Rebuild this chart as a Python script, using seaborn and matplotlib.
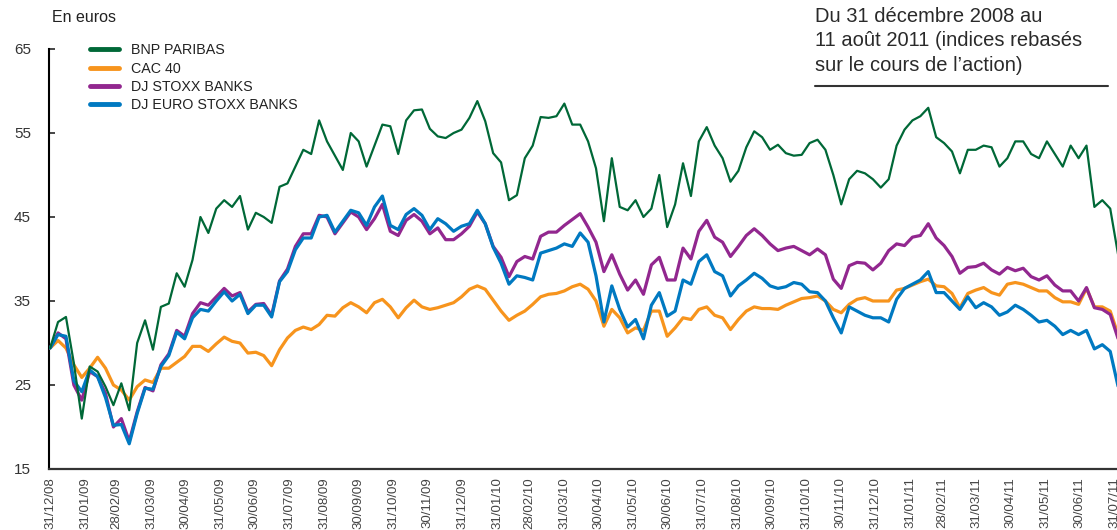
import pandas as pd
import matplotlib
matplotlib.use('Agg')
import matplotlib.pyplot as plt
import seaborn as sns

# Valeurs hebdomadaires (base = cours BNP au 31/12/2008)
start_date = '2008-12-31'

bnp = [29.4, 32.5, 33.1, 27.6, 21.0, 27.2, 26.6, 24.8, 22.6, 25.2,
       22.0, 30.0, 32.7, 29.2, 34.3, 34.7, 38.3, 36.7, 39.9, 45.0,
       43.1, 46.0, 47.0, 46.2, 47.5, 43.5, 45.5, 45.0, 44.3, 48.6,
       49.0, 51.0, 53.0, 52.5, 56.5, 54.0, 52.3, 50.6, 55.0, 54.0,
       51.0, 53.5, 56.0, 55.8, 52.5, 56.5, 57.7, 57.8, 55.5, 54.6,
       54.4, 55.0, 55.4, 56.8, 58.8, 56.4, 52.6, 51.5, 47.0, 47.6,
       52.0, 53.5, 56.9, 56.8, 57.0, 58.5, 56.0, 56.0, 54.0, 50.8,
       44.5, 52.0, 46.2, 45.8, 47.0, 45.0, 46.0, 50.0, 43.8, 46.5,
       51.4, 47.5, 54.0, 55.7, 53.5, 52.0, 49.2, 50.5, 53.3, 55.2,
       54.5, 53.0, 53.6, 52.6, 52.3, 52.4, 53.8, 54.2, 53.0, 50.0,
       46.5, 49.5, 50.5, 50.2, 49.5, 48.5, 49.5, 53.5, 55.4, 56.5,
       57.0, 58.0, 54.5, 53.8, 52.8, 50.2, 53.0, 53.0, 53.5, 53.3,
       51.0, 52.0, 54.0, 54.0, 52.5, 52.0, 54.0, 52.5, 51.0, 53.5,
       52.0, 53.5, 46.2, 47.0, 46.0, 40.5, 40.0]

cac40 = [29.4, 30.3, 29.4, 27.4, 25.9, 27.0, 28.3, 27.0, 25.0, 24.4,
         23.2, 24.8, 25.6, 25.3, 27.0, 27.0, 27.7, 28.4, 29.6, 29.6,
         29.0, 29.9, 30.7, 30.2, 30.0, 28.8, 28.9, 28.5, 27.3, 29.2,
         30.6, 31.5, 31.9, 31.6, 32.2, 33.3, 33.2, 34.2, 34.8, 34.3,
         33.6, 34.8, 35.2, 34.3, 33.0, 34.2, 35.1, 34.3, 34.0, 34.2,
         34.5, 34.8, 35.5, 36.4, 36.8, 36.4, 35.1, 33.8, 32.7, 33.3,
         33.8, 34.6, 35.5, 35.8, 35.9, 36.2, 36.7, 37.0, 36.4, 35.0,
         32.0, 34.0, 33.0, 31.2, 31.8, 31.5, 33.8, 33.8, 30.8, 31.8,
         33.0, 32.8, 34.0, 34.3, 33.3, 33.0, 31.6, 32.8, 33.8, 34.3,
         34.1, 34.1, 34.0, 34.5, 34.9, 35.3, 35.4, 35.6, 35.0, 34.0,
         33.6, 34.6, 35.2, 35.4, 35.0, 35.0, 35.0, 36.3, 36.5, 36.9,
         37.3, 37.6, 36.8, 36.7, 35.9, 34.2, 35.9, 36.3, 36.6, 36.0,
         35.7, 37.0, 37.2, 37.0, 36.6, 36.2, 36.2, 35.4, 34.9, 34.9,
         34.6, 36.5, 34.3, 34.3, 33.8, 31.0, 30.5]

dj_stoxx_banks = [29.4, 31.2, 30.5, 25.0, 23.2, 26.6, 26.0, 24.0, 20.0, 21.0,
                  18.3, 21.8, 24.7, 24.3, 27.4, 28.7, 31.5, 30.8, 33.5, 34.8,
                  34.5, 35.5, 36.5, 35.6, 36.0, 33.7, 34.6, 34.7, 33.3, 37.4,
                  38.8, 41.5, 43.0, 43.0, 45.2, 45.0, 43.0, 44.3, 45.6, 45.0,
                  43.5, 44.8, 46.5, 43.3, 42.8, 44.6, 45.3, 44.5, 43.0, 43.7,
                  42.3, 42.3, 43.0, 43.9, 45.6, 44.2, 41.5, 40.2, 37.9, 39.7,
                  40.3, 40.0, 42.7, 43.2, 43.2, 44.0, 44.7, 45.4, 43.8, 42.0,
                  38.5, 40.5, 38.2, 36.3, 37.5, 35.8, 39.3, 40.2, 37.5, 37.5,
                  41.3, 40.0, 43.3, 44.6, 42.6, 42.0, 40.3, 41.5, 42.8, 43.6,
                  42.8, 41.8, 41.0, 41.3, 41.5, 41.0, 40.5, 41.2, 40.5, 37.6,
                  36.5, 39.2, 39.6, 39.5, 38.7, 39.5, 41.0, 41.8, 41.6, 42.6,
                  42.8, 44.2, 42.5, 41.6, 40.3, 38.3, 39.0, 39.1, 39.5, 38.7,
                  38.2, 39.0, 38.6, 38.9, 37.9, 37.5, 38.0, 36.9, 36.2, 36.2,
                  35.0, 36.6, 34.2, 34.0, 33.4, 30.5, 29.8]

dj_euro_stoxx_banks = [29.4, 31.0, 30.8, 25.5, 24.2, 26.8, 26.0, 23.5, 20.2, 20.3,
                       18.0, 21.6, 24.6, 24.5, 27.2, 28.5, 31.3, 30.5, 33.0, 34.0,
                       33.8, 35.0, 36.1, 35.0, 35.8, 33.5, 34.5, 34.5, 33.1, 37.3,
                       38.5, 41.1, 42.5, 42.5, 45.0, 45.2, 43.2, 44.5, 45.8, 45.5,
                       44.0, 46.2, 47.5, 44.0, 43.5, 45.3, 46.0, 45.2, 43.5, 44.8,
                       44.2, 43.3, 43.9, 44.2, 45.8, 44.2, 41.4, 39.5, 37.0, 38.0,
                       37.8, 37.5, 40.7, 41.0, 41.3, 41.8, 41.5, 43.1, 42.0, 38.0,
                       32.5, 36.8, 34.0, 31.9, 32.8, 30.5, 34.5, 36.0, 33.2, 33.8,
                       37.5, 37.0, 39.7, 40.5, 38.5, 38.0, 35.6, 36.8, 37.5, 38.3,
                       37.7, 36.8, 36.5, 36.7, 37.2, 37.0, 36.1, 36.0, 35.0, 33.0,
                       31.2, 34.3, 33.8, 33.3, 33.0, 33.0, 32.5, 35.2, 36.5, 37.0,
                       37.5, 38.5, 36.0, 36.0, 35.0, 34.0, 35.5, 34.2, 34.8, 34.3,
                       33.3, 33.7, 34.5, 34.0, 33.3, 32.5, 32.7, 32.0, 31.0, 31.5,
                       31.0, 31.5, 29.3, 29.8, 29.0, 24.8, 24.3]

tick_labels = ['31/12/08', '31/01/09', '28/02/09', '31/03/09', '30/04/09', '31/05/09',
               '30/06/09', '31/07/09', '31/08/09', '30/09/09', '31/10/09', '30/11/09',
               '31/12/09', '31/01/10', '28/02/10', '31/03/10', '30/04/10', '31/05/10',
               '30/06/10', '31/07/10', '31/08/10', '30/09/10', '31/10/10', '30/11/10',
               '31/12/10', '31/01/11', '28/02/11', '31/03/11', '30/04/11', '31/05/11',
               '30/06/11', '31/07/11']
y_ticks = [15, 25, 35, 45, 55, 65]

dates = pd.date_range(start_date, periods=len(bnp), freq='7D')
df = pd.DataFrame({'date': dates, 'BNP PARIBAS': bnp, 'CAC 40': cac40,
                   'DJ STOXX BANKS': dj_stoxx_banks,
                   'DJ EURO STOXX BANKS': dj_euro_stoxx_banks})

couleurs = {'BNP PARIBAS': '#006837', 'CAC 40': '#F7941D',
            'DJ STOXX BANKS': '#92278F', 'DJ EURO STOXX BANKS': '#0079C1'}
epaisseurs = {'BNP PARIBAS': 1.6, 'CAC 40': 2.3,
              'DJ STOXX BANKS': 2.3, 'DJ EURO STOXX BANKS': 2.3}

sns.set_style('white')
plt.rcParams['font.family'] = ['Liberation Sans', 'DejaVu Sans']

fig = plt.figure(figsize=(11.17, 5.30), dpi=100)
ax = fig.add_axes([49 / 1117, 61 / 530, 1 - 49 / 1117, 420 / 530])

# ordre de tracé : orange, violet, bleu puis vert au-dessus
for serie in ['CAC 40', 'DJ STOXX BANKS', 'DJ EURO STOXX BANKS', 'BNP PARIBAS']:
    sns.lineplot(data=df, x='date', y=serie, ax=ax, color=couleurs[serie],
                 linewidth=epaisseurs[serie], label=serie, zorder=3)

ax.set_ylim(15, 65)
ax.set_yticks(y_ticks)
ax.set_xlim(pd.Timestamp('2008-12-30'), pd.Timestamp('2011-08-02'))
tick_dates = pd.to_datetime(tick_labels, format='%d/%m/%y')
ax.set_xticks(tick_dates)
ax.set_xticklabels(tick_labels, rotation=90, ha='center', va='top')
ax.set_xlabel('')
ax.set_ylabel('')

ax.tick_params(axis='y', direction='in', length=4, width=1.2, labelsize=11,
               labelcolor='#333333', pad=13, left=True)
ax.tick_params(axis='x', length=0, labelsize=9.5, labelcolor='#444444', pad=6)

for side in ['top', 'right']:
    ax.spines[side].set_visible(False)
ax.spines['left'].set_color('black')
ax.spines['left'].set_linewidth(1.5)
ax.spines['bottom'].set_color('#333333')
ax.spines['bottom'].set_linewidth(1.6)

# légende dans l'ordre du graphique d'origine
handles, labels = ax.get_legend_handles_labels()
ordre = ['BNP PARIBAS', 'CAC 40', 'DJ STOXX BANKS', 'DJ EURO STOXX BANKS']
h = [handles[labels.index(o)] for o in ordre]
leg = ax.legend(h, ordre, loc='upper left', bbox_to_anchor=(0.033, 1.027),
                frameon=False, fontsize=10.3, handlelength=2.0, handletextpad=0.9,
                labelspacing=0.3, borderaxespad=0)
for line in leg.get_lines():
    line.set_linewidth(3.5)
for t in leg.get_texts():
    t.set_color('#222222')

fig.text(52 / 1117, 1 - 18 / 530, 'En euros', fontsize=11.5, color='#222222',
         va='center', ha='left')
fig.text(815 / 1117, 1 - 41 / 530,
         'Du 31 décembre 2008 au\n11 août 2011 (indices rebasés\nsur le cours de l\u2019action)',
         fontsize=14.5, color='#2a2a2a', va='center', ha='left', linespacing=1.38)
fig.add_artist(plt.Line2D([815 / 1117, 1108 / 1117], [1 - 86 / 530, 1 - 86 / 530],
                          color='#333333', linewidth=1.5))

fig.savefig('out.png', dpi=100)
